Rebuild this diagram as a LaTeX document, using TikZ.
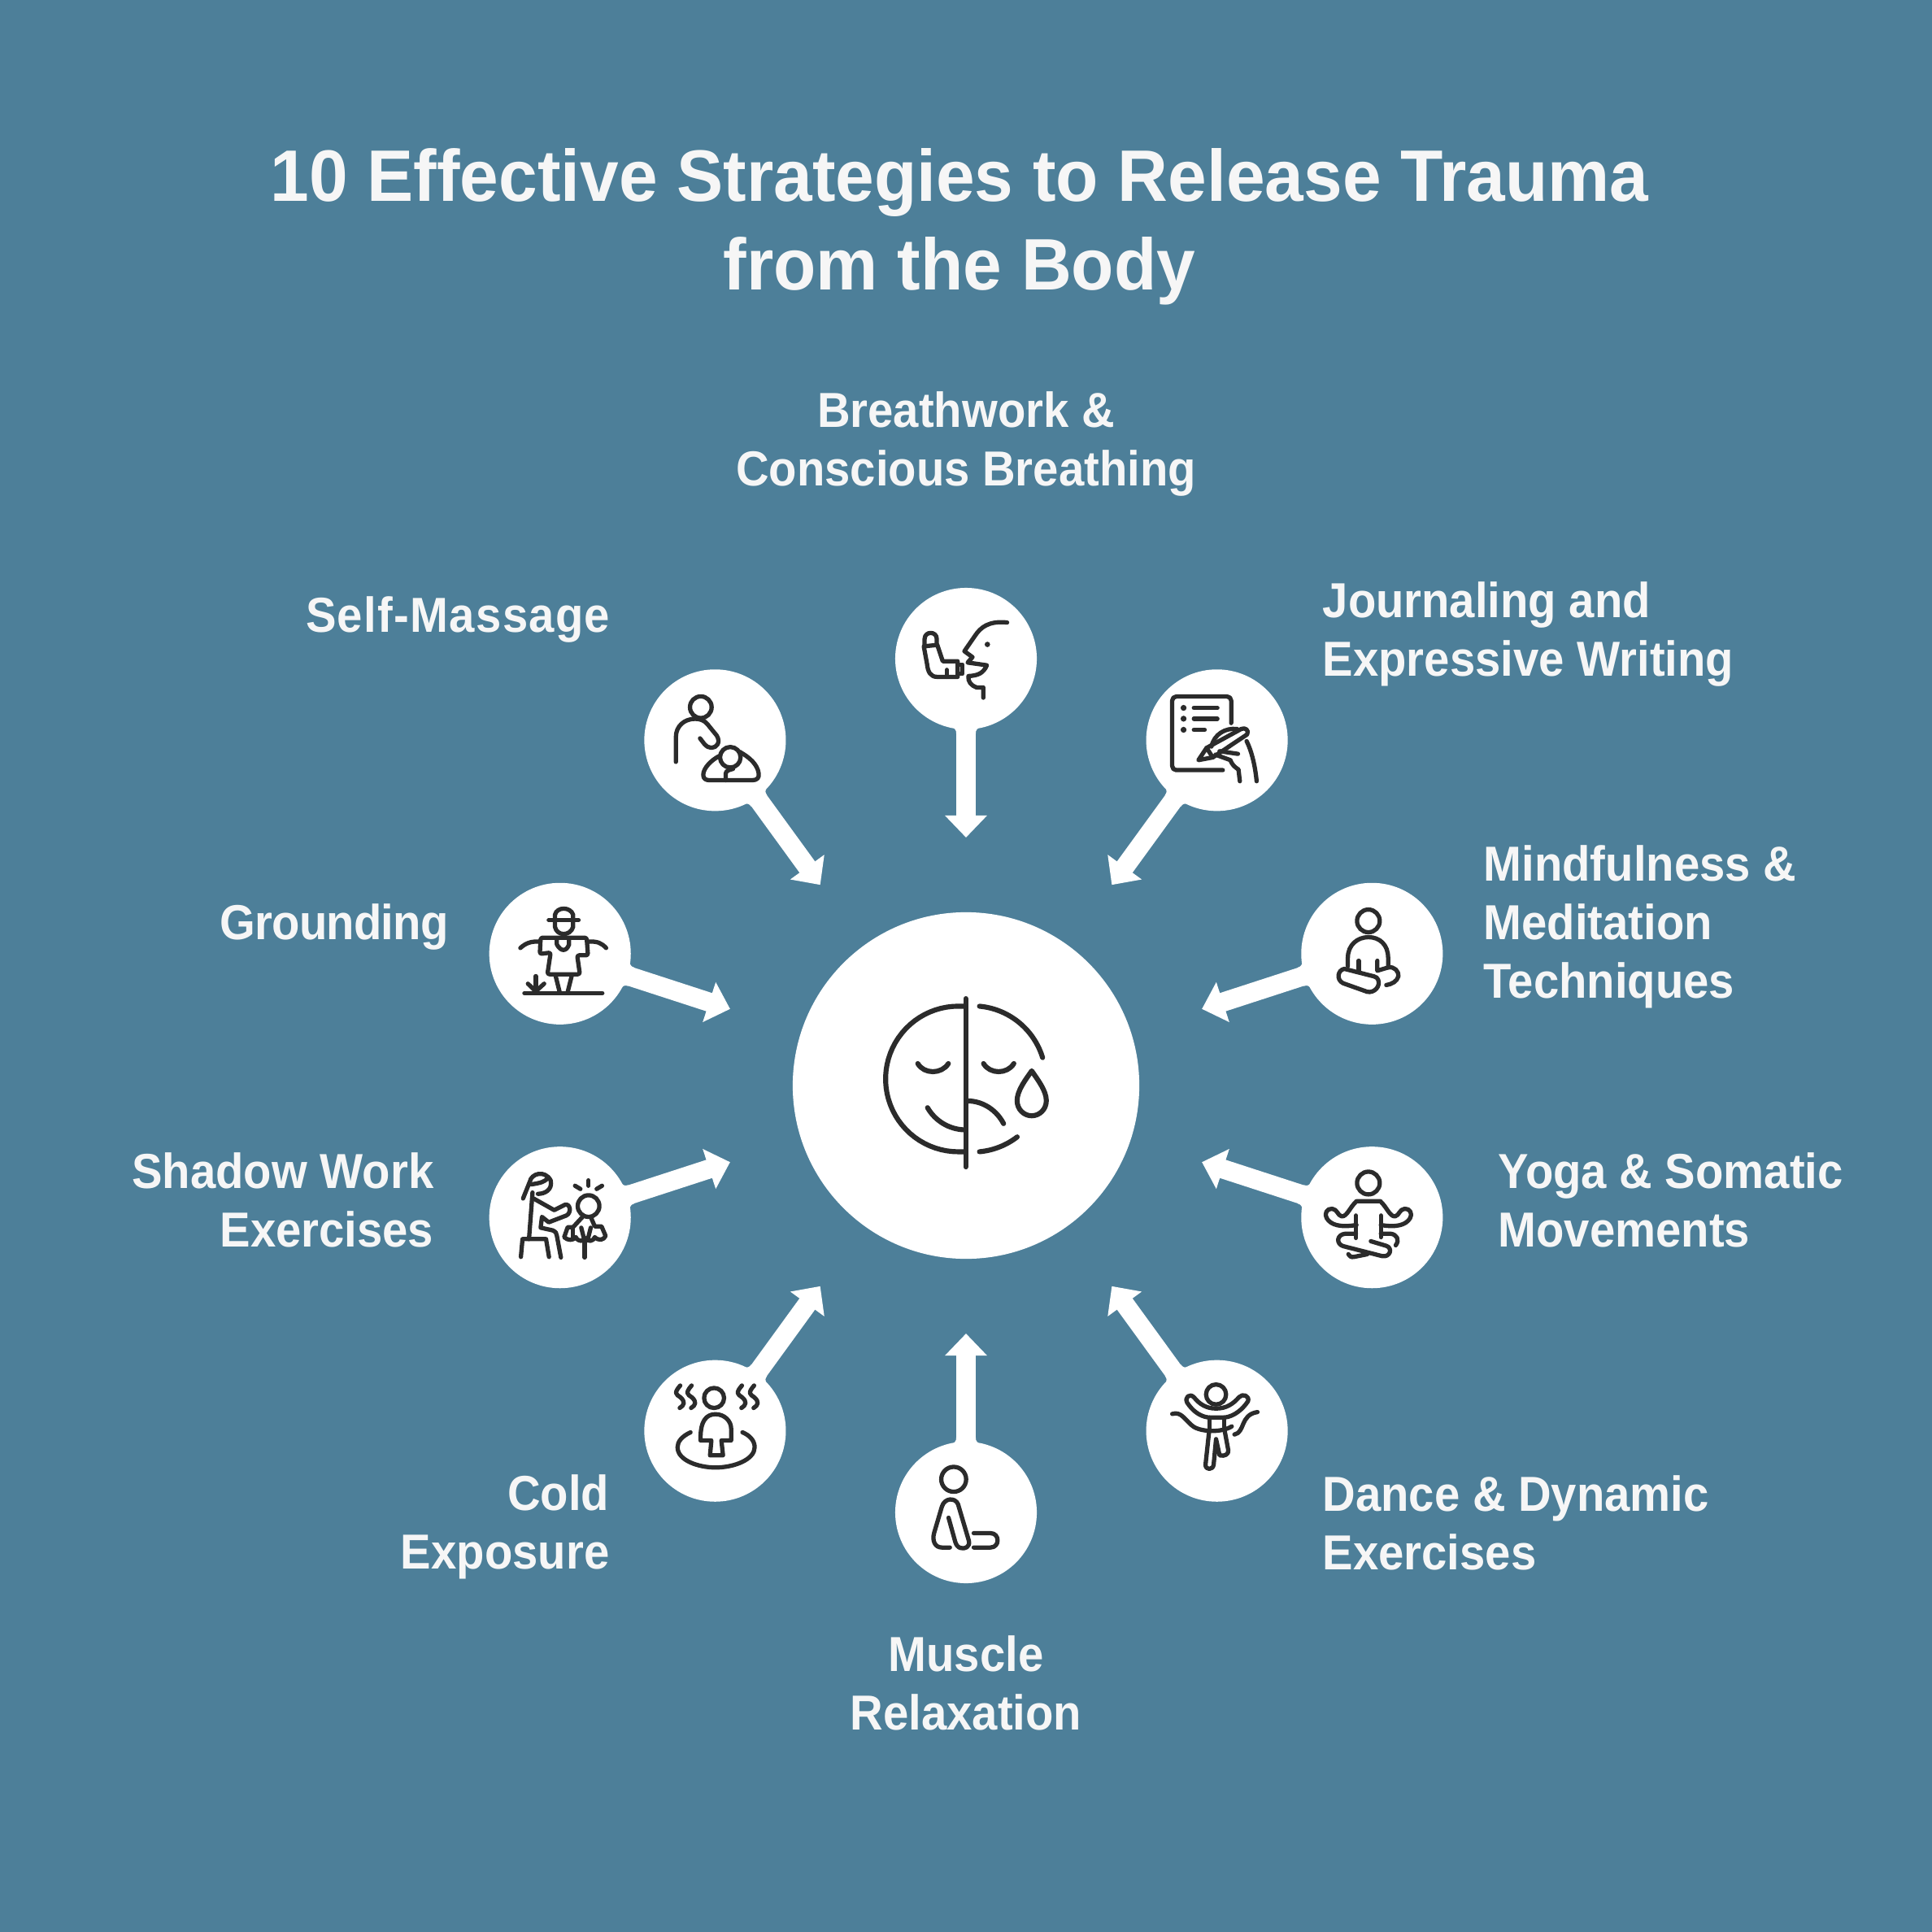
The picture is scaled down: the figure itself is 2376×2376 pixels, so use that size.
\documentclass[tikz,border=0pt]{standalone}
\usepackage{fontspec}
\setmainfont{Liberation Sans}[FakeStretch=0.93]
\newfontfamily\ttlfont{Liberation Sans}[FakeStretch=0.955]
\usetikzlibrary{arrows.meta}
\definecolor{bgblue}{HTML}{4D7F99}
\definecolor{ink}{HTML}{2B2B2B}
\definecolor{paper}{HTML}{F6F6F6}
\tikzset{
  hubc/.style={circle,fill=white,minimum size=4.26cm,inner sep=0pt},
  spoke/.style={circle,fill=white,minimum size=1.74cm,inner sep=0pt},
  conn/.style={draw=white,line width=0.235cm,-{Triangle[length=0.27cm,width=0.5cm]}},
  ttl/.style={text=paper,font=\fontsize{25.5}{31}\ttlfont\bfseries\selectfont,align=center,inner sep=0pt},
  lab/.style={text=paper,font=\fontsize{17.2}{20.5}\bfseries\selectfont,inner sep=0pt},
  zm/.style={x=0.003333cm,y=-0.003333cm},
  ic/.style={color=ink,line width=#1,line cap=round,line join=round},
  ic/.default=1.5pt
}
\begin{document}
\begin{tikzpicture}[x=0.01cm,y=-0.01cm]
\useasboundingbox (0,0) rectangle (2376,2376);
\fill[bgblue] (0,0) rectangle (2376,2376);
% title
\node[ttl] (title) at (1180,279) {10 Effective Strategies to Release Trauma\\from the Body};
% hub and spokes
\node[hubc] (hub) at (1188,1335) {};
\node[spoke] (n1) at (1188,810) {};
\node[spoke] (n2) at (1496.6,910.3) {};
\node[spoke] (n3) at (1687.3,1172.8) {};
\node[spoke] (n4) at (1687.3,1497.2) {};
\node[spoke] (n5) at (1496.6,1759.7) {};
\node[spoke] (n6) at (1188,1860) {};
\node[spoke] (n7) at (879.4,1759.7) {};
\node[spoke] (n8) at (688.7,1497.2) {};
\node[spoke] (n9) at (688.7,1172.8) {};
\node[spoke] (n10) at (879.4,910.3) {};
\coordinate (t1) at (1188,1030);
\coordinate (t2) at (1367.3,1088.2);
\coordinate (t3) at (1478.1,1240.8);
\coordinate (t4) at (1478.1,1429.2);
\coordinate (t5) at (1367.3,1581.8);
\coordinate (t6) at (1188,1640);
\coordinate (t7) at (1008.7,1581.8);
\coordinate (t8) at (897.9,1429.2);
\coordinate (t9) at (897.9,1240.8);
\coordinate (t10) at (1008.7,1088.2);
\foreach \i in {1,...,10} {\draw[conn] (n\i) -- (t\i);}
\foreach \i/\a in {1/90,2/54,3/18,4/-18,5/-54,6/-90,7/-126,8/-162,9/162,10/126} {
  \begin{scope}[shift={(n\i)},rotate=\a+180]
    \fill[white] (84,-17) .. controls (87,-13) and (88,-12) .. (92,-12) -- (92,12) .. controls (88,12) and (87,13) .. (84,17) -- cycle;
  \end{scope}
}
% labels
\node[lab,align=center] (l1) at (1188,546) {Breathwork \&\\Conscious Breathing};
\node[lab,align=left,anchor=west] (l2) at (1626,780) {Journaling and\\Expressive Writing};
\node[lab,align=left,anchor=west] (l3) at (1824,1140) {Mindfulness \&\\Meditation\\Techniques};
\node[lab,align=left,anchor=west] (l4) at (1842,1476) {Yoga \& Somatic\\Movements};
\node[lab,align=left,anchor=west] (l5) at (1626,1873) {Dance \& Dynamic\\Exercises};
\node[lab,align=center] (l6) at (1188,2070) {Muscle\\Relaxation};
\node[lab,align=right,anchor=east] (l7) at (750,1878) {Cold\\Exposure};
\node[lab,align=right,anchor=east] (l8) at (534,1476) {Shadow Work\\Exercises};
\node[lab,align=right,anchor=east] (l9) at (552,1140) {\addfontfeature{LetterSpace=-1.4}Grounding};
\node[lab,align=right,anchor=east] (l10) at (751,762) {\addfontfeature{LetterSpace=2.2}Self-Massage};
% hub icon
\begin{scope}[shift={(940,1080)},zm,ic=1.75pt]
\draw (744,445) -- (744,1067);
\draw (744,473) -- plot[domain=90:270,samples=40] ({717+269*cos(\x)},{742-269*sin(\x)}) -- (744,1011);
\draw plot[domain=84.7:17,samples=40] ({770+270*cos(\x)},{742-270*sin(\x)});
\draw plot[domain=-84.7:-52.5,samples=20] ({770+270*cos(\x)},{742-270*sin(\x)});
\draw (567,685) .. controls (590,725) and (655,725) .. (680,685);
\draw (810,685) .. controls (833,725) and (898,725) .. (922,685);
\draw (603,848) .. controls (630,895) and (680,928) .. (740,930);
\draw (750,823) .. controls (810,823) and (860,860) .. (884,907);
\draw (988,712) .. controls (965,745) and (934,785) .. (934,822) .. controls (934,855) and (960,878) .. (988,878) .. controls (1016,878) and (1042,855) .. (1042,822) .. controls (1042,785) and (1010,745) .. (988,712) -- cycle;
\end{scope}
% self-massage and breath icons
\begin{scope}[shift={(770,700)},zm,ic]
\draw (276,510) circle (40);
\draw (184,712) -- (184,620) .. controls (184,580) and (215,553) .. (255,553) .. controls (275,553) and (290,560) .. (300,572) -- (335,615) .. controls (350,640) and (335,660) .. (315,660) .. controls (305,660) and (298,655) .. (290,647) -- (273,625);
\draw (385,695) circle (38);
\draw (345,690) .. controls (315,705) and (285,735) .. (285,760) .. controls (285,775) and (295,780) .. (310,780) -- (465,780) .. controls (485,780) and (492,770) .. (490,755) .. controls (485,720) and (455,695) .. (420,675);
\draw (368,780) -- (368,755) .. controls (368,745) and (385,740) .. (395,738);
\draw (1408,197) .. controls (1340,190) and (1310,215) .. (1290,245) -- (1250,303) -- (1280,325) -- (1262,345) -- (1333,355) .. controls (1320,385) and (1300,393) .. (1265,395) .. controls (1262,415) and (1275,430) .. (1295,437) -- (1320,437) -- (1320,475);
\fill (1335,278) circle (10);
\draw (1103,280) -- (1103,258) .. controls (1103,228) and (1148,228) .. (1148,258) -- (1148,275);
\draw (1100,285) -- (1150,280) -- (1170,340) -- (1225,340) -- (1225,398) -- (1150,398) .. controls (1125,398) and (1115,380) .. (1112,350) -- cycle;
\draw (1225,352) -- (1243,352) -- (1243,387) -- (1225,387);
\draw (1185,372) -- (1185,398);
\end{scope}
% journaling
\begin{scope}[shift={(1380,800)},zm,ic]
\draw[rounded corners=0.05cm] (403,268) -- (403,170) -- (185,170) -- (185,442) -- (372,442);
\fill (227,212) circle (11);
\fill (227,252) circle (11);
\fill (227,293) circle (11);
\draw (265,212) -- (352,212);
\draw (265,252) -- (352,252);
\draw (265,293) -- (305,293);
\draw (282,405) -- (312,360) -- (440,290) .. controls (455,283) and (470,295) .. (462,310) -- (335,395) -- cycle;
\draw (312,360) -- (335,395);
\draw (330,355) .. controls (340,310) and (380,285) .. (425,290);
\draw (360,372) -- (428,382);
\draw (345,385) -- (400,405) .. controls (405,420) and (415,430) .. (430,440) -- (435,483);
\draw (460,335) .. controls (480,375) and (492,430) .. (497,483);
\end{scope}
% mindfulness
\begin{scope}[shift={(1590,1070)},zm,ic]
\draw (279,188) circle (42);
\draw (203,355) -- (203,325) .. controls (203,275) and (240,248) .. (279,248) .. controls (320,248) and (352,275) .. (352,325) -- (352,360);
\draw (243,335) -- (243,375);
\draw (312,335) -- (312,372) -- (352,360) .. controls (375,355) and (392,375) .. (390,392) .. controls (385,412) and (365,422) .. (345,425);
\draw (190,365) .. controls (165,370) and (160,405) .. (185,418) -- (275,450) .. controls (300,455) and (325,430) .. (315,405) .. controls (312,398) and (308,396) .. (300,393) -- cycle;
\end{scope}
% yoga
\begin{scope}[shift={(1590,1400)},zm,ic]
\draw (279,165) circle (42);
\draw (235,320) .. controls (175,330) and (140,320) .. (125,295) .. controls (115,280) and (125,258) .. (145,260) .. controls (165,262) and (165,285) .. (180,288) .. controls (200,290) and (210,255) .. (235,232) -- (323,232) .. controls (348,255) and (358,290) .. (378,288) .. controls (393,285) and (393,262) .. (413,260) .. controls (433,258) and (443,280) .. (433,295) .. controls (418,320) and (383,330) .. (325,320);
\draw (233,285) -- (233,368);
\draw (325,285) -- (325,365);
\draw (233,352) -- (195,352) .. controls (160,355) and (160,390) .. (185,398) -- (330,435) .. controls (360,440) and (370,405) .. (345,397) -- (288,380);
\draw (325,352) -- (360,352) .. controls (385,355) and (395,375) .. (380,395);
\draw (205,428) .. controls (210,436) and (215,440) .. (225,438) -- (275,428);
\end{scope}
% dance
\begin{scope}[shift={(1400,1660)},zm,ic]
\draw (287,165) circle (37);
\draw (180,195) .. controls (170,175) and (190,160) .. (205,175) .. controls (225,200) and (250,217) .. (287,217) .. controls (325,217) and (350,200) .. (372,175) .. controls (385,160) and (412,170) .. (405,190) .. controls (385,220) and (355,245) .. (320,250) -- (258,250) .. controls (225,245) and (200,225) .. (180,195) -- cycle;
\draw (262,250) -- (262,295);
\draw (318,250) -- (318,295);
\draw (125,237) .. controls (160,225) and (175,265) .. (205,285) .. controls (240,305) and (310,305) .. (345,283);
\draw (355,313) .. controls (395,305) and (375,240) .. (440,230);
\draw (262,295) -- (248,425) .. controls (248,445) and (275,445) .. (278,425) -- (287,330) -- (300,390) .. controls (320,395) and (335,385) .. (332,370) -- (318,295);
\end{scope}
% muscle
\begin{scope}[shift={(1090,1770)},zm,ic]
\draw (249,148) circle (46);
\draw (235,400) -- (205,400) .. controls (180,400) and (168,375) .. (177,345) -- (205,250) .. controls (215,215) and (255,215) .. (265,240) -- (305,375) .. controls (310,400) and (290,405) .. (275,402) .. controls (265,400) and (258,390) .. (255,380) -- (230,290);
\draw (323,347) -- (385,347) .. controls (420,347) and (420,400) .. (385,400) -- (323,400);
\end{scope}
% cold
\begin{scope}[shift={(780,1660)},zm,ic]
\draw (295,178) circle (37);
\draw (245,335) -- (245,325) .. controls (245,265) and (265,238) .. (300,238) .. controls (335,238) and (358,265) .. (358,290) -- (358,335) -- (322,335) -- (328,390) -- (280,390) -- (285,335) -- cycle;
\draw (208,305) .. controls (175,320) and (160,340) .. (160,360) .. controls (160,410) and (240,435) .. (300,435) .. controls (370,435) and (445,405) .. (445,360) .. controls (445,335) and (425,315) .. (400,305);
\foreach \s in {0,42,228,273} {
  \draw (170+\s,132) .. controls (145+\s,160) and (155+\s,165) .. (170+\s,175) .. controls (190+\s,192) and (185+\s,205) .. (168+\s,215);
}
\end{scope}
% shadow work
\begin{scope}[shift={(590,1400)},zm,ic]
\draw (160,222) -- (185,160) .. controls (190,130) and (240,115) .. (262,155) .. controls (270,190) and (240,205) .. (215,205);
\draw (190,170) .. controls (225,165) and (240,160) .. (250,148);
\draw (195,200) -- (182,372);
\draw (195,220) -- (275,265) -- (315,245) .. controls (335,240) and (340,275) .. (320,285) -- (255,310) -- (230,290) -- (225,330) -- (270,340) .. controls (280,345) and (285,350) .. (285,360) -- (300,440);
\draw (152,438) -- (158,372) -- (245,372) -- (256,438);
\draw (402,250) circle (40);
\draw (352,175) -- (372,187);
\draw (402,155) -- (402,175);
\draw (452,175) -- (432,187);
\draw (380,290) -- (345,328) -- (325,328) -- (312,365) .. controls (325,378) and (345,378) .. (355,365) .. controls (365,385) and (385,380) .. (390,368) .. controls (400,385) and (420,380) .. (425,365) .. controls (440,380) and (460,375) .. (465,360) -- (450,325) -- (425,325) -- (410,290);
\draw (345,330) -- (345,368);
\draw (375,330) -- (385,370);
\draw (410,330) -- (400,370);
\draw (388,380) -- (388,440);
\end{scope}
% grounding
\begin{scope}[shift={(590,1070)},zm,ic]
\draw (255,185) -- (365,185);
\draw (278,185) -- (278,165) .. controls (285,135) and (335,135) .. (345,165) -- (345,185);
\draw (278,185) -- (278,210) .. controls (285,245) and (335,245) .. (345,210) -- (345,185);
\draw[rounded corners=0.025cm] (225,250) -- (395,250) -- (400,315) -- (360,315) -- (370,385) -- (250,385) -- (262,305) -- (222,310) -- cycle;
\draw (285,252) -- (285,275) .. controls (300,302) and (320,302) .. (330,275) -- (330,252);
\draw (222,265) .. controls (190,262) and (170,270) .. (150,288);
\draw (400,265) .. controls (435,262) and (450,270) .. (467,288);
\draw (280,390) -- (295,450);
\draw (340,390) -- (325,450);
\draw (165,455) -- (453,455);
\draw (207,392) -- (207,450);
\draw (178,420) -- (207,448);
\draw (238,420) -- (207,448);
\end{scope}
\end{tikzpicture}
\end{document}
